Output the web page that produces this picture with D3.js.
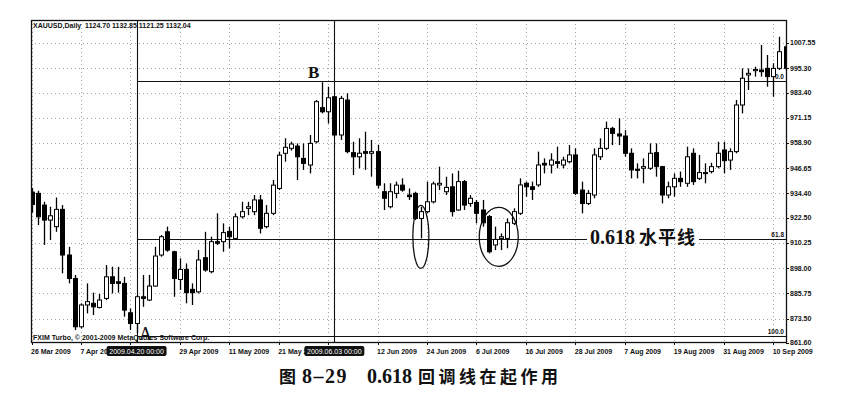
<!DOCTYPE html>
<html><head><meta charset="utf-8">
<script src="https://cdn.jsdelivr.net/npm/d3@7"></script>
<style>body{margin:0;background:#fff}svg{display:block}</style>
</head><body>
<svg id="c" width="856" height="400"></svg>
<script>
// ---- data (XAUUSD daily, one bar per weekday from 26 Mar 2009) ----
const openP  = [935.0,934.4,928.7,921.4,918.2,926.6,904.4,893.0,869.5,880.1,880.9,878.9,883.3,893.8,891.4,890.6,876.3,871.1,884.1,882.5,
889.3,904.4,915.7,906.0,892.5,897.4,887.7,886.5,903.1,896.3,910.9,910.9,915.9,912.5,923.0,927.1,925.5,931.2,918.2,924.7,
936.8,953.9,956.3,957.4,951.4,948.2,959.5,976.1,974.1,981.4,962.8,979.8,954.2,952.2,954.7,953.9,954.7,935.2,927.9,934.4,
938.4,933.6,934.4,922.2,925.5,930.3,938.5,935.2,937.6,926.3,940.1,929.5,930.0,926.3,923.1,909.3,912.5,912.5,919.8,924.7,
939.3,937.6,938.5,949.0,948.2,949.8,948.2,949.8,953.1,936.0,929.5,933.6,952.2,956.3,966.0,963.3,962.3,953.9,946.1,946.6,
946.6,954.2,947.4,933.6,937.6,941.7,939.3,953.9,941.7,944.1,945.0,947.4,955.5,950.6,954.7,977.4,992.0,994.1,994.4,995.2,
991.2,995.2,1005.7];
const highP  = [937.0,935.7,930.3,927.9,932.4,928.7,908.4,894.7,880.9,890.6,886.1,885.4,899.5,898.7,898.7,893.8,878.4,884.9,894.7,894.7,
908.4,914.1,918.2,906.5,902.8,900.3,890.6,906.8,915.7,913.3,924.7,919.8,918.2,924.7,930.3,930.3,933.6,933.6,928.7,940.9,
954.7,961.2,959.5,958.7,958.7,962.8,979.8,988.5,986.3,981.8,981.8,983.1,959.5,961.2,964.4,960.4,957.9,939.3,939.3,940.1,
941.7,936.8,935.2,927.9,940.1,940.1,947.4,942.5,944.1,945.4,940.9,933.6,931.2,931.2,923.9,918.2,914.9,922.2,927.1,941.7,
940.1,940.1,954.7,951.4,953.9,957.1,952.2,957.9,956.3,940.1,936.0,956.3,961.2,969.3,966.8,970.9,965.2,956.3,949.0,951.4,
958.7,958.7,947.8,940.1,944.1,945.0,957.1,956.3,953.1,949.0,949.3,959.5,959.5,956.3,979.8,995.2,995.2,996.0,1006.6,1001.7,
997.7,1010.6,1006.5];
const lowP   = [925.0,919.0,909.3,911.7,915.7,895.5,890.6,867.9,868.7,876.0,875.2,878.4,882.5,885.7,886.1,874.4,867.9,866.3,879.2,882.0,
889.0,903.6,906.0,884.1,887.4,880.9,880.1,885.7,896.3,895.5,909.3,906.0,907.6,911.7,922.2,923.8,923.8,914.9,917.4,923.8,
936.0,949.8,955.2,940.9,945.8,944.1,958.7,973.3,968.4,962.0,960.4,953.9,943.3,946.6,945.8,942.5,936.8,926.3,927.1,932.0,
935.2,931.2,921.4,912.5,924.7,929.5,936.0,933.6,923.1,926.0,926.3,927.9,919.8,918.2,905.2,906.8,906.8,907.7,919.0,923.9,
932.8,931.2,937.6,944.1,944.1,946.6,946.6,949.0,933.6,924.7,928.7,932.0,950.6,955.5,957.9,957.9,952.2,941.7,941.7,939.3,
945.8,942.5,929.5,932.0,932.8,937.6,937.6,938.5,940.9,939.3,944.1,946.6,944.1,945.8,953.9,973.3,984.7,991.2,991.2,986.3,
981.4,994.4,994.0];
const closeP = [929.0,923.0,921.4,923.5,926.6,904.4,893.0,869.5,880.1,881.7,879.2,882.5,893.8,890.6,890.6,877.6,871.1,884.1,883.3,889.3,
903.9,913.3,906.8,893.0,897.4,886.1,886.1,902.0,897.1,910.9,910.1,915.3,913.3,923.0,925.5,927.9,931.2,917.4,924.7,938.4,
953.0,956.8,958.4,952.2,949.0,958.7,979.0,974.1,980.9,962.8,980.6,954.7,952.2,953.9,953.9,954.7,938.4,932.0,935.2,938.4,
936.0,932.8,922.2,925.5,930.3,939.0,939.3,937.3,925.5,940.1,928.7,932.0,924.7,920.1,906.0,912.0,913.3,920.1,925.5,938.5,
937.6,936.3,948.2,948.2,950.6,949.0,950.6,953.1,934.4,929.5,934.4,953.1,956.3,966.0,963.6,962.3,953.9,945.8,945.8,947.4,
953.9,947.4,933.6,937.6,941.7,940.1,952.2,940.1,944.5,944.5,947.4,953.9,950.3,954.7,977.4,990.4,992.8,994.7,993.6,991.2,
995.2,1003.3,995.2];
const xTickLabels = ["26 Mar 2009","7 Apr 2009","17 Apr 2009","29 Apr 2009","11 May 2009","21 May 2009","2 Jun 2009","12 Jun 2009",
  "24 Jun 2009","6 Jul 2009","16 Jul 2009","28 Jul 2009","7 Aug 2009","19 Aug 2009","31 Aug 2009","10 Sep 2009"];
const xTickEvery = 8;
const yTicks = [1007.55,995.30,983.40,971.15,958.90,946.65,934.40,922.50,910.25,898.00,885.75,873.50,861.60];
const fiboLevels = [0, 61.8, 100];
const fiboHigh = 989.0, fiboLow = 864.8;
const vLineBars = [17, 49];
const vLineLabels = ["2009.04.20 00:00", "2009.06.03 00:00"];
const headerText = "XAUUSD,Daily  1124.70 1132.85 1121.25 1132.04";
const footerText = "FXIM Turbo, © 2001-2009 MetaQuotes Software Corp.";

// ---- drawing ----
const svg = d3.select("#c");
const L = 31, R = 786, T = 20, B = 342;
const x = d3.scaleLinear().domain([0, 122]).range([31.5, 785.5]);
const y = d3.scaleLinear().domain([861.60, 1007.55]).range([343, 43]);
const bars = openP.map((o, i) => ({i, o, h: highP[i], l: lowP[i], c: closeP[i]}));
const px = v => Math.round(v) + 0.5;
const small = "'Liberation Sans', Arial, sans-serif";

svg.append("defs").append("clipPath").attr("id", "plot")
  .append("rect").attr("x", L).attr("y", T).attr("width", R - L).attr("height", B - T);

// grid
const grid = svg.append("g").attr("clip-path", "url(#plot)")
  .attr("stroke", "#8c8c8c").attr("stroke-width", 0.8).attr("stroke-dasharray", "1,3");
grid.selectAll(".gh").data(yTicks).join("line").attr("class", "gh")
  .attr("x1", L).attr("x2", R).attr("y1", d => px(y(d))).attr("y2", d => px(y(d)));
grid.selectAll(".gv").data(xTickLabels).join("line").attr("class", "gv")
  .attr("x1", (d, k) => px(x(k * xTickEvery))).attr("x2", (d, k) => px(x(k * xTickEvery)))
  .attr("y1", T).attr("y2", B);

// fibo lines
const fiboY = lv => y(fiboHigh - (fiboHigh - fiboLow) * lv / 100);
const xA = px(x(vLineBars[0]));
const fg = svg.append("g").attr("stroke", "#111").attr("stroke-width", 1.2);
fiboLevels.forEach(lv => {
  const yy = Math.round(fiboY(lv)) + 0.5;
  if (lv === 61.8) {
    fg.append("line").attr("x1", xA).attr("x2", 587).attr("y1", yy).attr("y2", yy);
    fg.append("line").attr("x1", 699).attr("x2", R).attr("y1", yy).attr("y2", yy);
  } else {
    fg.append("line").attr("x1", xA).attr("x2", R).attr("y1", yy).attr("y2", yy);
  }
});

// vertical lines
svg.append("g").selectAll("line").data(vLineBars).join("line")
  .attr("x1", d => px(x(d))).attr("x2", d => px(x(d))).attr("y1", T).attr("y2", B)
  .attr("stroke", "#111").attr("stroke-width", 1.1);

// candles
const cg = svg.append("g").attr("clip-path", "url(#plot)");
cg.selectAll(".wk").data(bars).join("line").attr("class", "wk")
  .attr("x1", d => px(x(d.i))).attr("x2", d => px(x(d.i)))
  .attr("y1", d => y(d.h)).attr("y2", d => y(d.l))
  .attr("stroke", "#000").attr("stroke-width", 1.3);
cg.selectAll(".bd").data(bars).join("rect").attr("class", "bd")
  .attr("x", d => px(x(d.i)) - 2).attr("width", 4)
  .attr("y", d => y(Math.max(d.o, d.c)))
  .attr("height", d => Math.max(1, Math.abs(y(d.o) - y(d.c))))
  .attr("fill", d => d.c >= d.o ? "#fff" : "#000")
  .attr("stroke", "#000").attr("stroke-width", 1);

// frame
svg.append("rect").attr("x", L + 0.5).attr("y", T + 0.5).attr("width", R - L).attr("height", B - T)
  .attr("fill", "none").attr("stroke", "#111").attr("stroke-width", 1.3);

// right axis
const ra = svg.append("g");
ra.selectAll("line").data(yTicks).join("line")
  .attr("x1", R).attr("x2", R + 3).attr("y1", d => px(y(d))).attr("y2", d => px(y(d)))
  .attr("stroke", "#111");
ra.selectAll("text").data(yTicks).join("text")
  .attr("x", R + 4).attr("y", d => y(d)).attr("dy", "0.35em")
  .attr("font-family", small).attr("font-size", 7).attr("font-weight", "bold").attr("fill", "#111")
  .text(d => d.toFixed(2));

// bottom axis (labels hidden under the vertical-line date boxes are not drawn)
const covered = k => vLineBars.some(b => Math.abs(k * xTickEvery - b) < 5);
const ba = svg.append("g");
ba.selectAll("line").data(xTickLabels).join("line")
  .attr("x1", (d, k) => px(x(k * xTickEvery))).attr("x2", (d, k) => px(x(k * xTickEvery)))
  .attr("y1", B).attr("y2", B + 3).attr("stroke", "#111");
ba.selectAll("text").data(xTickLabels.map((t, k) => ({t, k})).filter(d => !covered(d.k))).join("text")
  .attr("x", d => x(d.k * xTickEvery) - 0.5).attr("y", 354)
  .attr("font-family", small).attr("font-size", 7).attr("font-weight", "bold").attr("fill", "#111")
  .text(d => d.t);

// vertical line date boxes
vLineBars.forEach((b, k) => {
  const cx = x(b);
  svg.append("rect").attr("x", cx - 30).attr("y", 346).attr("width", 60).attr("height", 10)
    .attr("rx", 2).attr("fill", "#111");
  svg.append("text").attr("x", cx).attr("y", 353.5).attr("text-anchor", "middle")
    .attr("font-family", small).attr("font-size", 7).attr("fill", "#fff").text(vLineLabels[k]);
});

// header / footer
svg.append("text").attr("x", 33).attr("y", 28).attr("font-family", small).attr("font-size", 7)
  .attr("font-weight", "bold").attr("fill", "#111").attr("xml:space", "preserve").text(headerText);
svg.append("text").attr("x", 33).attr("y", 340).attr("font-family", small).attr("font-size", 7)
  .attr("font-weight", "bold").attr("fill", "#111").text(footerText);

// fibo level labels
fiboLevels.forEach(lv => {
  svg.append("text").attr("x", 784).attr("y", fiboY(lv) - 2).attr("text-anchor", "end")
    .attr("font-family", small).attr("font-size", 6.5).attr("font-weight", "bold").attr("fill", "#111")
    .text(lv.toFixed(1));
});

// A / B
svg.append("text").attr("x", 139).attr("y", 340).attr("font-family", "'Liberation Serif', serif")
  .attr("font-size", 18).attr("fill", "#111").text("A");
svg.append("text").attr("x", 308).attr("y", 78).attr("font-family", "'Liberation Serif', serif")
  .attr("font-size", 17).attr("font-weight", "bold").attr("fill", "#111").text("B");

// ellipses
const eg = svg.append("g").attr("fill", "none").attr("stroke", "#111").attr("stroke-width", 1.3);
eg.append("ellipse").attr("cx", x(63)).attr("cy", fiboY(61.8) - 2).attr("rx", 8).attr("ry", 31.5);
eg.append("ellipse").attr("cx", x(75.6)).attr("cy", fiboY(61.8) - 2).attr("rx", 19.5).attr("ry", 29.5);

// 0.618 label
const lbl = svg.append("text").attr("y", 244).attr("fill", "#111").attr("font-weight", "bold");
lbl.append("tspan").attr("x", 590).attr("font-family", "'Liberation Serif', serif").attr("font-size", 20).text("0.618");
lbl.append("tspan").attr("x", 639).attr("font-family", "'Noto Sans CJK SC', sans-serif").attr("font-size", 18)
  .attr("letter-spacing", 1).text("水平线");

// caption
const cap = svg.append("text").attr("y", 383).attr("fill", "#111").attr("font-weight", "bold");
cap.append("tspan").attr("x", 279).attr("font-family", "'Noto Sans CJK SC', sans-serif").attr("font-size", 17).text("图");
cap.append("tspan").attr("x", 302).attr("font-family", "'Liberation Serif', serif").attr("font-size", 20)
  .attr("letter-spacing", 1.5).text("8–29");
cap.append("tspan").attr("x", 367).attr("font-family", "'Liberation Serif', serif").attr("font-size", 20).text("0.618");
cap.append("tspan").attr("x", 418).attr("font-family", "'Noto Sans CJK SC', sans-serif").attr("font-size", 17)
  .attr("letter-spacing", 3.5).text("回调线在起作用");
</script>
</body></html>
